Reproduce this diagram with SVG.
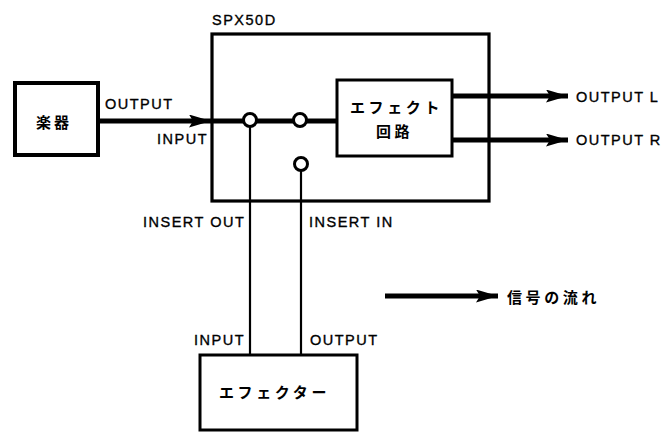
<svg xmlns="http://www.w3.org/2000/svg" width="666" height="433" viewBox="0 0 666 433">
<defs>
<style>
.box{fill:#fff;stroke:#000;stroke-width:3}
.sig{stroke:#000;stroke-width:5;fill:none}
.thin{stroke:#000;stroke-width:2.2;fill:none}
.jack{fill:#fff;stroke:#000;stroke-width:3}
.lbl{font-family:"Liberation Sans",Arial,sans-serif;font-size:14.5px;letter-spacing:1.5px;fill:#000;stroke:#000;stroke-width:0.35}
.jp{font-family:"Noto Sans CJK JP","Noto Sans",sans-serif;font-weight:700;font-size:15px;fill:#000}
</style>
<marker id="ah" viewBox="0 0 22 13" refX="22" refY="6.5" markerWidth="22" markerHeight="13" markerUnits="userSpaceOnUse" orient="auto">
<path d="M0,0 L22,6.5 L0,13 L4,6.5 Z" fill="#000"/>
</marker>
</defs>
<rect width="666" height="433" fill="#fff"/>
<g id="connectors">
<line class="sig" x1="99" y1="121" x2="211" y2="121" marker-end="url(#ah)"/>
<line class="sig" x1="212" y1="121" x2="337" y2="121"/>
<line class="thin" x1="250" y1="127" x2="250" y2="355"/>
<line class="thin" x1="301" y1="170" x2="301" y2="355"/>
<line class="sig" x1="452" y1="96" x2="568" y2="96" marker-end="url(#ah)"/>
<line class="sig" x1="452" y1="140" x2="568" y2="140" marker-end="url(#ah)"/>
<line class="sig" x1="385" y1="296" x2="498" y2="296" stroke-width="6" marker-end="url(#ah)"/>
</g>
<g id="instrument">
<rect x="15" y="83" width="83" height="72" fill="#fff" stroke="#000" stroke-width="4"/>
<text class="jp" x="36" y="128" font-size="17" letter-spacing="3">楽器</text>
</g>
<g id="spx50d">
<rect x="212" y="34" width="277" height="167" fill="none" stroke="#000" stroke-width="3.2"/>
<text class="lbl" x="212" y="25">SPX50D</text>
</g>
<g id="effect-circuit">
<rect class="box" x="337" y="80" width="115" height="76"/>
<text class="jp" x="350" y="113" letter-spacing="3.6">エフェクト</text>
<text class="jp" x="376" y="137" letter-spacing="3.6">回路</text>
</g>
<g id="jacks">
<circle class="jack" cx="250" cy="120" r="6.5"/>
<circle class="jack" cx="300" cy="120" r="6.5"/>
<circle class="jack" cx="301" cy="164" r="6.5"/>
</g>
<g id="effector">
<rect class="box" x="200" y="355" width="157" height="75"/>
<text class="jp" x="219" y="398" letter-spacing="3.6">エフェクター</text>
</g>
<g id="labels">
<text class="lbl" x="105" y="109">OUTPUT</text>
<text class="lbl" x="157" y="144">INPUT</text>
<text class="lbl" x="576" y="102">OUTPUT L</text>
<text class="lbl" x="576" y="145">OUTPUT R</text>
<text class="lbl" x="143" y="227">INSERT OUT</text>
<text class="lbl" x="309" y="227">INSERT IN</text>
<text class="lbl" x="194" y="345">INPUT</text>
<text class="lbl" x="310" y="345">OUTPUT</text>
</g>
<g id="legend">
<text class="jp" x="507" y="303" letter-spacing="3.6">信号の流れ</text>
</g>
</svg>
